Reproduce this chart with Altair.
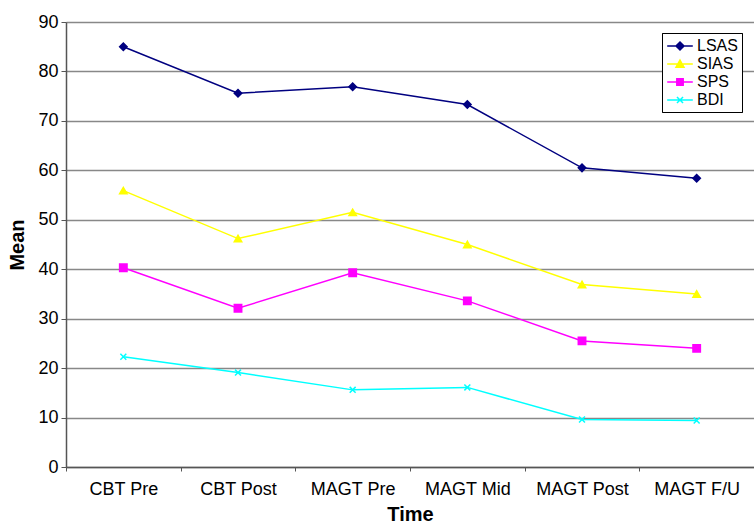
import altair as alt
import pandas as pd

times = ["CBT Pre", "CBT Post", "MAGT Pre", "MAGT Mid", "MAGT Post", "MAGT F/U"]
series_names = ["LSAS", "SIAS", "SPS", "BDI"]
lsas = [85.0, 75.6, 76.9, 73.3, 60.5, 58.4]
sias = [55.9, 46.2, 51.5, 45.0, 36.9, 35.0]
sps = [40.3, 32.1, 39.3, 33.6, 25.5, 24.0]
bdi = [22.3, 19.1, 15.6, 16.1, 9.6, 9.4]
colors = ["#000080", "#FFFF00", "#FF00FF", "#00FFFF"]
shapes = ["diamond", "triangle-up", "square", "M-0.8,-0.8L0.8,0.8M-0.8,0.8L0.8,-0.8"]

# legend glyphs: line segment through the marker (unit square -1..1)
leg_line = "M-1.6,0L1.6,0"
leg_glyphs = [
    leg_line + "M0,-0.5L0.5,0L0,0.5L-0.5,0Z",
    leg_line + "M0,-0.5L0.5,0.4L-0.5,0.4Z",
    leg_line + "M-0.4,-0.4L0.4,-0.4L0.4,0.4L-0.4,0.4Z",
    leg_line + "M-0.38,-0.38L0.38,0.38M-0.38,0.38L0.38,-0.38",
]

rows = []
for name, vals in zip(series_names, [lsas, sias, sps, bdi]):
    for t, v in zip(times, vals):
        rows.append({"Time": t, "Series": name, "Marker": name, "Mean": v})
df = pd.DataFrame(rows)

FONT = "Liberation Sans"

x = alt.X(
    "Time:N",
    sort=times,
    scale=alt.Scale(type="band", paddingInner=0, paddingOuter=0),
    bandPosition=0.5,
    axis=alt.Axis(
        title="Time",
        labelAngle=0,
        tickBand="extent",
        tickSize=4,
        tickColor="#555555",
        domainColor="#555555",
        domainWidth=1.5,
        labelFontSize=18,
        labelColor="#000000",
        labelPadding=9,
        titleFontSize=20,
        titleFontWeight="bold",
        titlePadding=6,
        grid=False,
    ),
)
y = alt.Y(
    "Mean:Q",
    scale=alt.Scale(domain=[0, 90], nice=False, zero=True),
    axis=alt.Axis(
        title="Mean",
        values=list(range(0, 91, 10)),
        tickSize=5,
        tickColor="#555555",
        domainColor="#555555",
        domainWidth=1.5,
        labelFontSize=18,
        labelColor="#000000",
        labelPadding=3,
        titleFontSize=20,
        titleFontWeight="bold",
        titlePadding=10,
        grid=True,
        gridColor="#888888",
        gridWidth=1.5,
    ),
)
legend = alt.Legend(
    title=None,
    orient="none",
    legendX=596,
    legendY=11,
    fillColor="#ffffff",
    strokeColor="#000000",
    padding=4,
    labelFontSize=16,
    labelColor="#000000",
    labelOffset=8,
    symbolOffset=5,
    symbolSize=256,
    symbolOpacity=1,
    rowPadding=1,
    symbolStrokeWidth=1.5,
)
cscale = alt.Scale(domain=series_names, range=colors)

lines = alt.Chart(df).mark_line(strokeWidth=1.5).encode(
    x=x, y=y,
    stroke=alt.Stroke("Series:N", sort=series_names, scale=cscale, legend=legend),
)
legend_layer = alt.Chart(df).transform_filter("false").mark_point(filled=False, opacity=1).encode(
    x=x, y=y,
    stroke=alt.Stroke("Series:N", sort=series_names, scale=cscale, legend=legend),
    fill=alt.Fill("Series:N", sort=series_names, scale=cscale, legend=legend),
    shape=alt.Shape("Series:N", sort=series_names,
                    scale=alt.Scale(domain=series_names, range=leg_glyphs), legend=legend),
)
mscale = alt.Scale(domain=series_names, range=colors)
points = alt.Chart(df).mark_point(filled=False, size=55, opacity=1, strokeWidth=1.5).encode(
    x=x, y=y,
    stroke=alt.Stroke("Marker:N", scale=mscale, legend=None),
    fill=alt.Fill("Marker:N", scale=mscale, legend=None),
    shape=alt.Shape("Marker:N", scale=alt.Scale(domain=series_names, range=shapes), legend=None),
)

chart = (
    alt.layer(lines, legend_layer, points)
    .resolve_scale(stroke="independent", fill="independent", shape="independent")
    .properties(
        width=688,
        height=445,
        padding={"left": 66, "top": 22, "right": 0, "bottom": 58},
        autosize=alt.AutoSizeParams(type="none"),
        background="#ffffff",
    )
    .configure_view(stroke=None)
    .configure(font=FONT)
)

chart.save("out.html", embed_options={"renderer": "svg", "actions": False})
